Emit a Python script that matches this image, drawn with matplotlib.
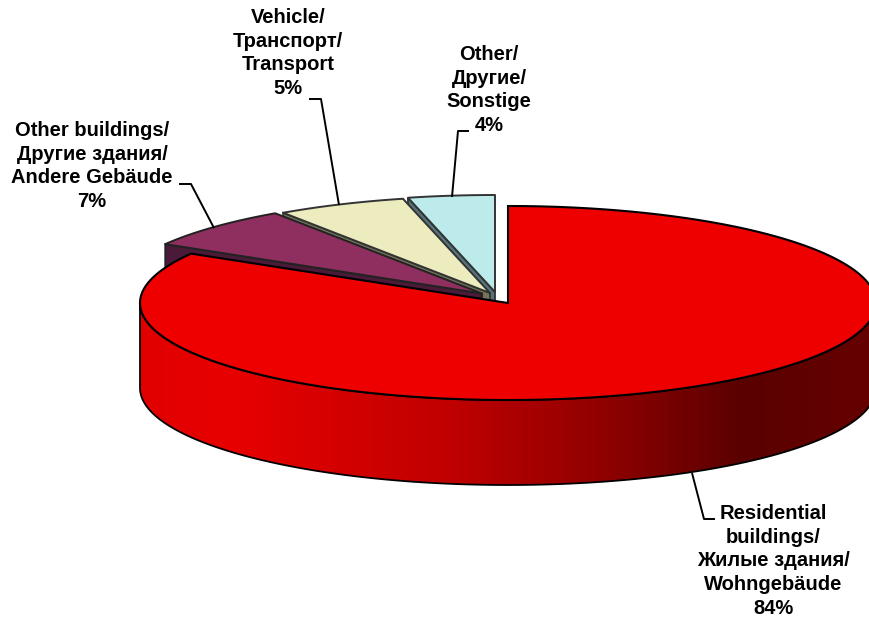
import numpy as np
import matplotlib
matplotlib.use("Agg")
import matplotlib.pyplot as plt
from matplotlib.colors import LinearSegmentedColormap
from matplotlib.patches import Polygon

plt.rcParams['font.family'] = ['Liberation Sans', 'DejaVu Sans']

# chart data
labels = [
    "Residential\nbuildings/\nЖилые здания/\nWohngebäude\n84%",
    "Other buildings/\nДругие здания/\nAndere Gebäude\n7%",
    "Vehicle/\nТранспорт/\nTransport\n5%",
    "Other/\nДругие/\nSonstige\n4%",
]
# slice sizes
shares = [83.5, 7.0, 5.7, 3.8]

top_colors = ["#EE0000", "#8F2F60", "#ECECBE", "#BDEBEC"]
wall_colors = ["#EE0000", "#4A1A38", "#74745A", "#55757A"]
edge_colors = ["black", "#222222", "#333333", "#333333"]

# slice centres in pixels, the first one is the big slice
centers = [(508, 303), (482, 293.5), (490, 293), (495, 292)]
rx, ry = 368, 97
depth = 85

label_pos = [(773, 561), (92, 166), (288, 53), (489, 90)]
leaders = [
    [(692, 473), (704, 519), (715, 519)],
    [(214, 228), (191, 184), (179, 184)],
    [(339, 205), (321, 99), (309, 99)],
    [(452, 197), (458, 131), (469, 131)],
]

# wall shading of the big slice, left to right
grad_pos = [0.0, 0.12, 0.42, 0.63, 0.82, 1.0]
grad_cols = ["#E00000", "#E80000", "#C00000", "#900000", "#5A0000", "#660000"]


def arc(center, start, end, n=200):
    # angles in degrees, clockwise from 12 o'clock
    t = np.radians(np.linspace(start, end, n))
    return np.column_stack([center[0] + rx * np.sin(t), center[1] - ry * np.cos(t)])


fig = plt.figure(figsize=(8.69, 6.19), dpi=100)
ax = fig.add_axes([0, 0, 1, 1])
ax.set_xlim(0, 869)
ax.set_ylim(619, 0)
ax.axis("off")

ends = np.cumsum(shares) / sum(shares) * 360
starts = np.r_[0, ends[:-1]]

# small slices, back to front
z = 2
for i in [3, 2, 1]:
    c = np.array(centers[i], dtype=float)
    corner = arc(c, starts[i], starts[i], 1)[0]
    wall = [c, corner, corner + (0, depth), c + (0, depth)]
    ax.add_patch(Polygon(wall, closed=True, fc=wall_colors[i], ec=edge_colors[i],
                         lw=1.3, zorder=z))
    top = np.vstack([c, arc(c, starts[i], ends[i])])
    ax.add_patch(Polygon(top, closed=True, fc=top_colors[i], ec=edge_colors[i],
                         lw=1.4, joinstyle="round", zorder=z + 0.5))
    z += 1

# big slice, front wall with a gradient
c = np.array(centers[0], dtype=float)
front = arc(c, 90, 270)
wall = np.vstack([front, (front + (0, depth))[::-1]])
ax.add_patch(Polygon(wall, closed=True, fc="none", ec="black", lw=1.3, zorder=10))
cmap = LinearSegmentedColormap.from_list("wall", list(zip(grad_pos, grad_cols)))
im = ax.imshow(np.linspace(0, 1, 512).reshape(1, -1), cmap=cmap, aspect="auto",
               extent=(c[0] - rx, c[0] + rx, 619, 0), zorder=9)
im.set_clip_path(Polygon(wall, closed=True, transform=ax.transData))
ax.set_xlim(0, 869)
ax.set_ylim(619, 0)

top = np.vstack([c, arc(c, starts[0], ends[0], 500)])
ax.add_patch(Polygon(top, closed=True, fc=top_colors[0], ec="black", lw=1.5,
                     joinstyle="miter", zorder=11))

# leader lines and labels
for pts in leaders:
    xs, ys = zip(*pts)
    ax.plot(xs, ys, color="black", lw=1.4, zorder=12, solid_capstyle="butt")

for lab, (x, y) in zip(labels, label_pos):
    ax.text(x, y, lab, ha="center", va="center", fontsize=14.5,
            fontweight="bold", linespacing=1.31, color="black", zorder=13)

fig.savefig("out.png", dpi=100)
